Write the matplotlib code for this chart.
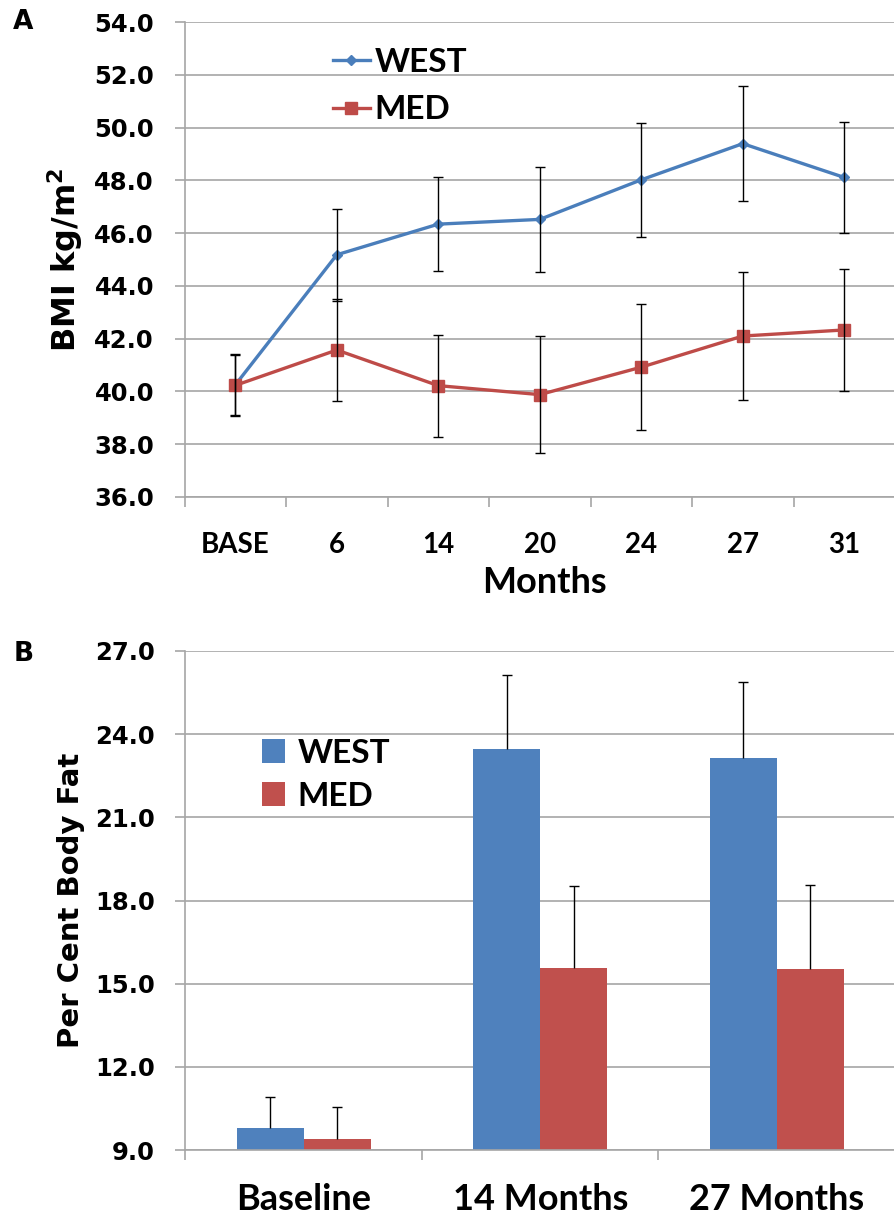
import numpy as np
import matplotlib.pyplot as plt
from matplotlib.ticker import FormatStrFormatter

# panel A - BMI over time
months = ['BASE', '6', '14', '20', '24', '27', '31']
west_bmi = [40.25, 45.18, 46.34, 46.52, 48.02, 49.39, 48.11]
west_bmi_err = [1.15, 1.75, 1.77, 2.0, 2.15, 2.17, 2.1]
med_bmi = [40.23, 41.57, 40.22, 39.88, 40.92, 42.1, 42.33]
med_bmi_err = [1.15, 1.95, 1.93, 2.22, 2.4, 2.42, 2.3]

# panel B - body fat
timepoints = ['Baseline', '14 Months', '27 Months']
west_fat = [9.78, 23.48, 23.14]
west_fat_err = [1.12, 2.64, 2.74]
med_fat = [9.39, 15.57, 15.52]
med_fat_err = [1.15, 2.94, 3.05]

BLUE = '#4a7ebb'
RED = '#be4b48'
BAR_BLUE = '#4f81bd'
BAR_RED = '#c0504d'
GRAY = '#a6a6a6'
TICKFONT = 'DejaVu Sans'
CATFONT = 'Lato'

W, H = 895, 1217
fig = plt.figure(figsize=(W / 100, H / 100), dpi=100)


def style_axes(ax):
    for s in ['top', 'right']:
        ax.spines[s].set_visible(False)
    for s in ['left', 'bottom']:
        ax.spines[s].set_color(GRAY)
        ax.spines[s].set_linewidth(1.2)
    ax.yaxis.grid(True, color=GRAY, lw=1.2)
    ax.set_axisbelow(True)
    ax.tick_params(axis='y', direction='out', length=7, color=GRAY, width=1.2,
                   pad=15, labelsize=17.5)
    ax.tick_params(axis='x', which='major', length=0)
    ax.tick_params(axis='x', which='minor', direction='out', length=7,
                   color=GRAY, width=1.2)
    for lab in ax.get_yticklabels():
        lab.set_fontfamily(TICKFONT)
        lab.set_fontweight('bold')
    ax.yaxis.set_major_formatter(FormatStrFormatter('%.1f'))


# ---------------- A ----------------
axA = fig.add_axes([184.6 / W, 1 - 497 / H, (W - 184.6) / W, 475 / H])
x = np.arange(len(months))
axA.plot(x, west_bmi, color=BLUE, lw=2.4, marker='D', ms=5.5, label='WEST', zorder=3)
axA.plot(x, med_bmi, color=RED, lw=2.4, marker='s', ms=8, label='MED', zorder=3)
axA.errorbar(x, west_bmi, yerr=west_bmi_err, fmt='none', ecolor='black',
             elinewidth=1, capsize=3.5, capthick=1, zorder=4)
axA.errorbar(x, med_bmi, yerr=med_bmi_err, fmt='none', ecolor='black',
             elinewidth=1, capsize=3.5, capthick=1, zorder=4)
axA.set_ylim(36, 54)
axA.set_yticks(np.arange(36, 54.1, 2))
axA.set_xlim(-0.5, 6.377)
axA.set_xticks(x)
axA.set_xticks(np.arange(-0.5, 7, 1), minor=True)
axA.set_xticklabels(months, fontfamily=CATFONT, fontweight='bold', fontsize=20)
style_axes(axA)
axA.tick_params(axis='x', which='major', pad=25)
axA.set_xlabel('Months', fontfamily=CATFONT, fontweight='bold', fontsize=26)
axA.xaxis.set_label_coords(0.507, -0.145)
axA.set_ylabel('BMI kg/m$^\\mathbf{2}$', fontfamily=TICKFONT, fontweight='bold', fontsize=23)
axA.yaxis.set_label_coords(-0.14, 0.5)
axA.legend(loc='center left', bbox_to_anchor=(0.209, 0.865), frameon=False,
           prop={'family': CATFONT, 'weight': 'bold', 'size': 24},
           handlelength=1.1, handletextpad=0.15, labelspacing=0.55,
           borderpad=0, borderaxespad=0)

# ---------------- B ----------------
axB = fig.add_axes([185.5 / W, 1 - 1150 / H, (W - 185.5) / W, 499 / H])
xb = np.arange(len(timepoints))
bw = 0.283
axB.bar(xb - bw / 2, west_fat, bw, color=BAR_BLUE, label='WEST', zorder=2)
axB.bar(xb + bw / 2, med_fat, bw, color=BAR_RED, label='MED', zorder=2)
for xs, vals, errs in [(xb - bw / 2, west_fat, west_fat_err),
                       (xb + bw / 2, med_fat, med_fat_err)]:
    eb = axB.errorbar(xs, vals, yerr=[np.zeros(len(vals)), errs], fmt='none',
                      ecolor='black', elinewidth=1, capsize=3.5, capthick=1, zorder=3)
    eb[1][0].set_visible(False)  # no cap on the bar top
axB.set_ylim(9, 27)
axB.set_yticks(np.arange(9, 27.1, 3))
axB.set_xlim(-0.5, 2.47)
axB.set_xticks(xb)
axB.set_xticks(np.arange(-0.5, 3, 1), minor=True)
axB.set_xticklabels(timepoints, fontfamily=CATFONT, fontweight='bold', fontsize=26)
style_axes(axB)
axB.tick_params(axis='x', which='major', pad=24)
axB.set_ylabel('Per Cent Body Fat', fontfamily=TICKFONT, fontweight='bold', fontsize=21)
axB.yaxis.set_label_coords(-0.1417, 0.5)
axB.legend(loc='center left', bbox_to_anchor=(0.108, 0.7525), frameon=False,
           prop={'family': CATFONT, 'weight': 'bold', 'size': 24},
           handlelength=0.7, handleheight=0.7, handletextpad=0.36,
           labelspacing=0.42, borderpad=0, borderaxespad=0)

fig.text(23 / W, 1 - 22 / H, 'A', ha='center', va='center', fontsize=19,
         fontweight='bold', fontfamily=TICKFONT)
fig.text(24 / W, 1 - 654 / H, 'B', ha='center', va='center', fontsize=19,
         fontweight='bold', fontfamily=TICKFONT)

fig.savefig('out.png', dpi=100)
